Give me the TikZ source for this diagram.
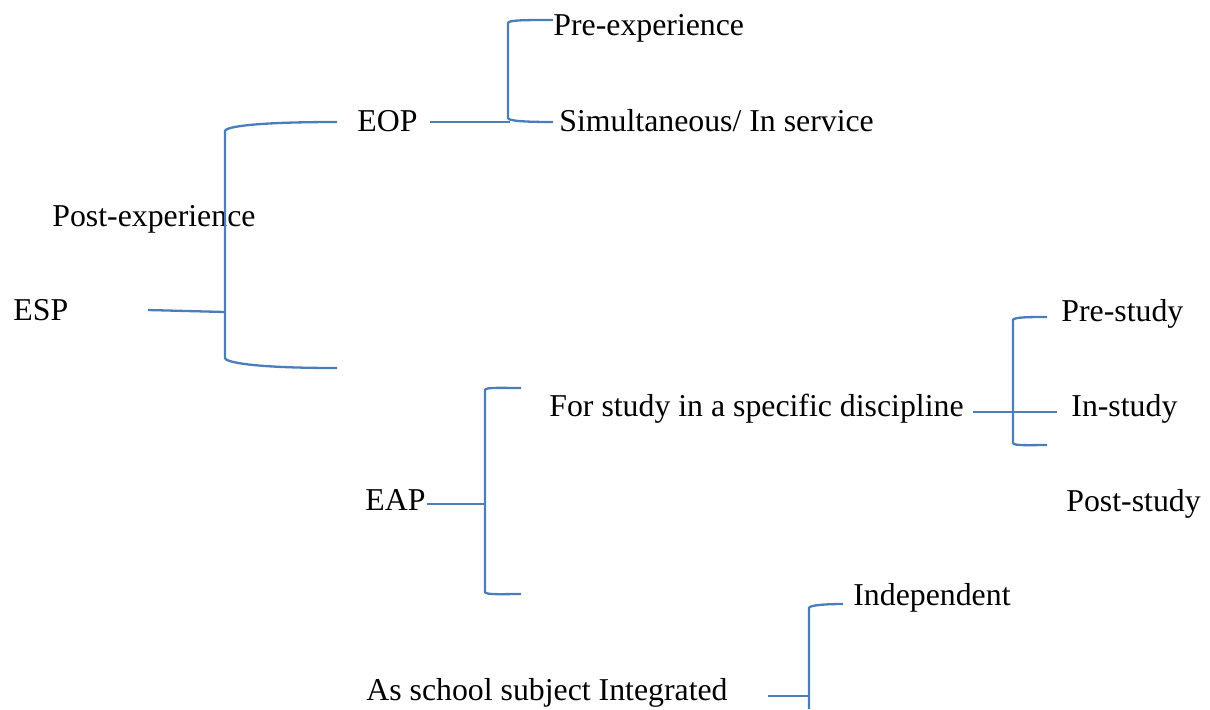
\documentclass[tikz,border=0pt]{standalone}
\usepackage{fontspec}
\setmainfont{Liberation Serif}
\usetikzlibrary{positioning}
\definecolor{braceblue}{HTML}{4A7EBB}
% left bracket: corner x, top y, bottom y, arm end x, top arm y, bottom arm y
\newcommand{\sidebrak}[6]{%
  \draw[brak] (#4,#5) .. controls ({#1+18},#5) and (#1,{#2-3}) .. (#1,#2)
    -- (#1,#3) .. controls (#1,{#3+3}) and ({#1+18},#6) .. (#4,#6);}

\begin{document}
\begin{tikzpicture}[x=0.5pt,y=-0.5pt
  ,every node/.style={font=\fontsize{15.9}{19}\selectfont
  ,anchor=base west,inner sep=0pt}
  ,brak/.style={draw=braceblue,line width=1.15pt}]
  \useasboundingbox (0,0) rectangle (1210,709);

  % labels
  \node (esp)       at (13,320)   {ESP};
  \node (postexp)   at (52,226)   {Post-experience};
  \node (eop)       at (357,131)  {EOP};
  \node (preexp)    at (553,35)   {Pre-experience};
  \node (simul)     at (559,131)  {Simultaneous/ In service};
  \node (eap)       at (365,510)  {EAP};
  \node (forstudy)  at (549,416)  {For study in a specific discipline};
  \node (prestudy)  at (1061,321) {Pre-study};
  \node (instudy)   at (1071,416) {In-study};
  \node (poststudy) at (1066,511) {Post-study};
  \node (indep)     at (853,605)  {Independent};
  \node (school)    at (366,700)  {As school subject Integrated};

  % brackets
  \sidebrak{225}{131}{358}{337}{122}{368}
  \sidebrak{508}{23}{118}{553}{20}{122}
  \sidebrak{485}{390}{592}{521}{388}{594}
  \sidebrak{1013}{320}{443}{1047}{317}{445}
  \draw[brak] (843,604) .. controls (827,604) and (809,605) .. (809,608)
    -- (809,709);

  % stems
  \coordinate (espstem)  at (148,310);
  \coordinate (espjoin)  at (225,312);
  \coordinate (eopstem)  at (430,122);
  \coordinate (eopjoin)  at (510,122);
  \coordinate (eapstem)  at (427,504);
  \coordinate (eapjoin)  at (485,504);
  \coordinate (forstem)  at (973,412);
  \coordinate (forjoin)  at (1057,412);
  \coordinate (intstem)  at (768,696);
  \coordinate (intjoin)  at (809,696);

  \draw[brak] (espstem) -- (espjoin);
  \draw[brak] (eopstem) -- (eopjoin);
  \draw[brak] (eapstem) -- (eapjoin);
  \draw[brak] (forstem) -- (forjoin);
  \draw[brak] (intstem) -- (intjoin);
\end{tikzpicture}
\end{document}
